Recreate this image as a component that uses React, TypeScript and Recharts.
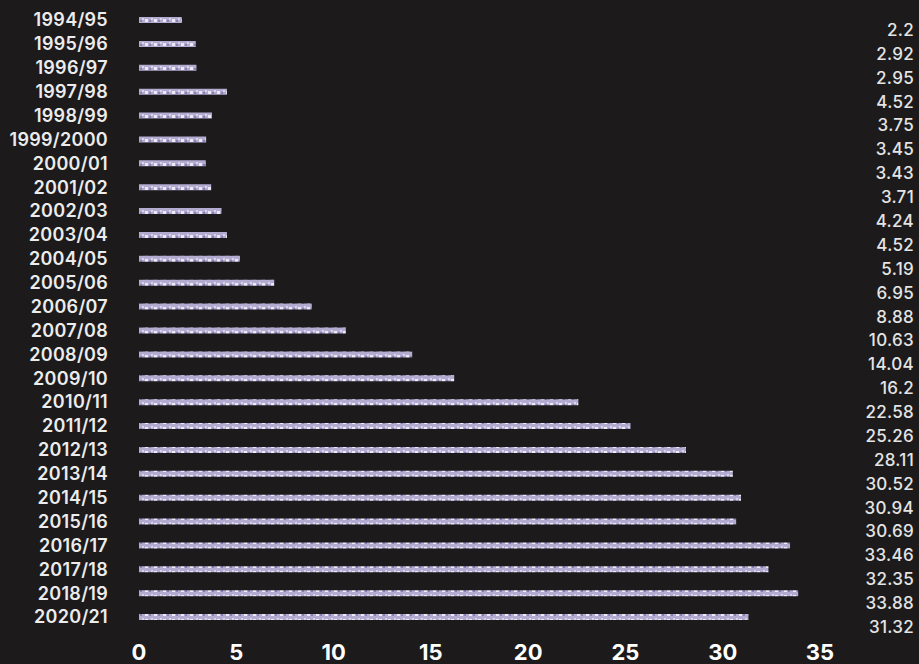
import { BarChart, Bar, XAxis, YAxis } from "recharts";

const years = [
  "1994/95", "1995/96", "1996/97", "1997/98", "1998/99", "1999/2000",
  "2000/01", "2001/02", "2002/03", "2003/04", "2004/05", "2005/06",
  "2006/07", "2007/08", "2008/09", "2009/10", "2010/11", "2011/12",
  "2012/13", "2013/14", "2014/15", "2015/16", "2016/17", "2017/18",
  "2018/19", "2020/21"
];

const amounts = [
  2.2, 2.92, 2.95, 4.52, 3.75, 3.45, 3.43, 3.71, 4.24, 4.52, 5.19, 6.95,
  8.88, 10.63, 14.04, 16.2, 22.58, 25.26, 28.11, 30.52, 30.94, 30.69,
  33.46, 32.35, 33.88, 31.32
];

const xTicks = [0, 5, 10, 15, 20, 25, 30, 35];

const data = years.map((year, i) => ({ year, amount: amounts[i], label: String(amounts[i]) }));

const font = "Inter, 'DejaVu Sans', sans-serif";

function ValueTick(props: any) {
  const { x, y, payload } = props;
  return (
    <text x={x + 86} y={y + 10} dy="0.35em" textAnchor="end" fill="#e4e4e4"
      fontSize={17} fontWeight={500} fontFamily={font} letterSpacing={0.3}>
      {payload.value}
    </text>
  );
}

export default function App() {
  return (
    <div style={{ position: "fixed", left: 0, top: 0, width: 919, height: 664, background: "#1c1a1b" }}>
      <BarChart
        width={919}
        height={664}
        data={data}
        layout="vertical"
        margin={{ top: 8, right: 2, bottom: 0, left: 0 }}
        barCategoryGap={0}
      >
        <defs>
          <pattern id="grain" width="9" height="6" patternUnits="userSpaceOnUse">
            <rect width="9" height="6" fill="#b3acd0" />
            <rect x="1" y="1" width="3" height="3" fill="#eceaf6" />
            <rect x="5" y="2" width="2" height="2" fill="#8a80b6" />
            <rect x="7" y="0" width="2" height="2" fill="#d8d4e8" />
          </pattern>
        </defs>
        <XAxis
          type="number"
          domain={[0, 35]}
          ticks={xTicks}
          axisLine={false}
          tickLine={false}
          tickMargin={9}
          height={35}
          tick={{ fill: "#ffffff", fontSize: 22, fontWeight: 700, fontFamily: font }}
        />
        <YAxis
          yAxisId="left"
          type="category"
          dataKey="year"
          width={139}
          axisLine={false}
          tickLine={false}
          tickMargin={25}
          interval={0}
          tick={{ fill: "#ececec", fontSize: 18, fontWeight: 600, fontFamily: font, letterSpacing: 0.3 }}
        />
        <YAxis
          yAxisId="right"
          orientation="right"
          type="category"
          dataKey="label"
          width={97}
          axisLine={false}
          tickLine={false}
          interval={0}
          tick={<ValueTick />}
        />
        <Bar yAxisId="left" dataKey="amount" barSize={6} fill="url(#grain)" isAnimationActive={false} />
      </BarChart>
    </div>
  );
}
